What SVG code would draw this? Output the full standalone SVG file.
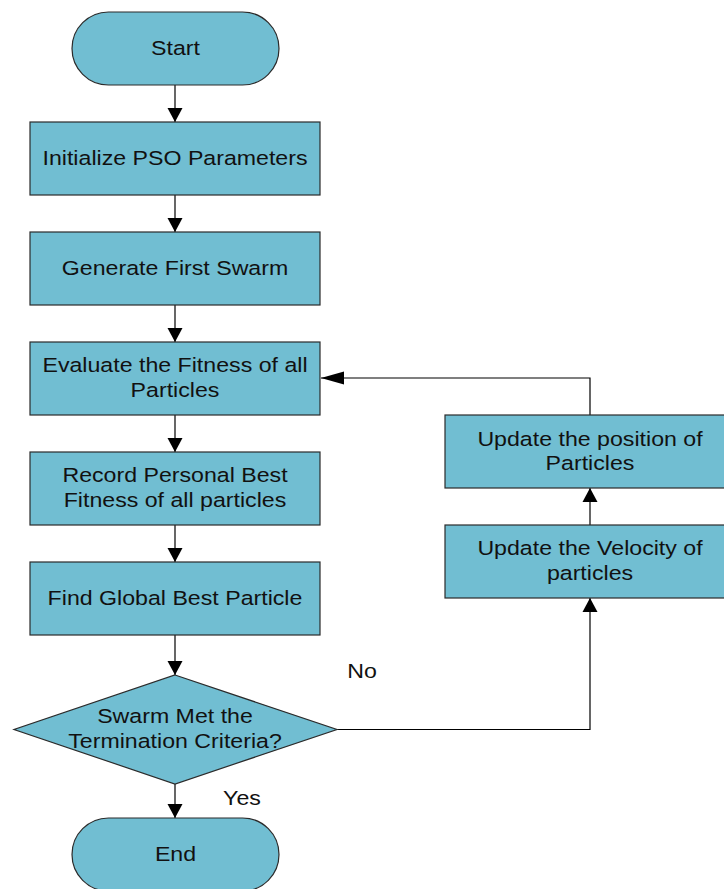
<svg xmlns="http://www.w3.org/2000/svg" width="724" height="889" viewBox="0 0 724 889">
<style>
.n{fill:#71BED2;stroke:#2b2b2b;stroke-width:1.2}
.t{font-family:"Liberation Sans",Arial,sans-serif;font-size:20.5px;fill:#111;text-anchor:middle}
.c{fill:none;stroke:#000;stroke-width:1.2}
</style>
<defs>
<marker id="ah" markerUnits="userSpaceOnUse" markerWidth="16" markerHeight="16" viewBox="0 0 16 16" refX="14" refY="8" orient="auto">
<path d="M0,0.5 L14,8 L0,15.5 Z" fill="#000"/>
</marker>
<marker id="ahw" markerUnits="userSpaceOnUse" markerWidth="24" markerHeight="14" viewBox="0 0 24 14" refX="23" refY="7" orient="auto">
<path d="M0,0.5 L23,7 L0,13.5 Z" fill="#000"/>
</marker>
</defs>
<rect width="724" height="889" fill="#fff"/>
<g id="connectors">
<line class="c" x1="175" y1="85" x2="175" y2="122" marker-end="url(#ah)"/>
<line class="c" x1="175" y1="195" x2="175" y2="232" marker-end="url(#ah)"/>
<line class="c" x1="175" y1="305" x2="175" y2="342" marker-end="url(#ah)"/>
<line class="c" x1="175" y1="415" x2="175" y2="452" marker-end="url(#ah)"/>
<line class="c" x1="175" y1="525" x2="175" y2="562" marker-end="url(#ah)"/>
<line class="c" x1="175" y1="635" x2="175" y2="675" marker-end="url(#ah)"/>
<line class="c" x1="175" y1="784" x2="175" y2="818" marker-end="url(#ah)"/>
<polyline class="c" points="337,729.5 590,729.5 590,598" marker-end="url(#ah)"/>
<line class="c" x1="590" y1="525" x2="590" y2="488" marker-end="url(#ah)"/>
<polyline class="c" points="590,415 590,378 321,378" marker-end="url(#ahw)"/>
<text class="t" transform="translate(362,678) scale(1.13,1)">No</text>
<text class="t" transform="translate(242,805) scale(1.13,1)">Yes</text>
</g>
<g id="start">
<rect class="n" x="72" y="12" width="207" height="73" rx="36.5" ry="36.5"/>
<text class="t" transform="translate(175.5,55) scale(1.13,1)">Start</text>
</g>
<g id="init">
<rect class="n" x="30" y="122" width="290" height="73"/>
<text class="t" transform="translate(175,165) scale(1.13,1)">Initialize PSO Parameters</text>
</g>
<g id="generate">
<rect class="n" x="30" y="232" width="290" height="73"/>
<text class="t" transform="translate(175,275) scale(1.13,1)">Generate First Swarm</text>
</g>
<g id="evaluate">
<rect class="n" x="30" y="342" width="290" height="73"/>
<text class="t" transform="translate(175,372) scale(1.13,1)">Evaluate the Fitness of all</text>
<text class="t" transform="translate(175,397) scale(1.13,1)">Particles</text>
</g>
<g id="record">
<rect class="n" x="30" y="452" width="290" height="73"/>
<text class="t" transform="translate(175,482) scale(1.13,1)">Record Personal Best</text>
<text class="t" transform="translate(175,507) scale(1.13,1)">Fitness of all particles</text>
</g>
<g id="global">
<rect class="n" x="30" y="562" width="290" height="73"/>
<text class="t" transform="translate(175,605) scale(1.13,1)">Find Global Best Particle</text>
</g>
<g id="decision">
<polygon class="n" points="175,675 337,729.5 175,784 14,729.5"/>
<text class="t" transform="translate(175,723) scale(1.13,1)">Swarm Met the</text>
<text class="t" transform="translate(175,748) scale(1.13,1)">Termination Criteria?</text>
</g>
<g id="end">
<rect class="n" x="72" y="818" width="207" height="73" rx="36.5" ry="36.5"/>
<text class="t" transform="translate(175.5,861) scale(1.13,1)">End</text>
</g>
<g id="velocity">
<rect class="n" x="445" y="525" width="290" height="73"/>
<text class="t" transform="translate(590,555) scale(1.13,1)">Update the Velocity of</text>
<text class="t" transform="translate(590,580) scale(1.13,1)">particles</text>
</g>
<g id="position">
<rect class="n" x="445" y="415" width="290" height="73"/>
<text class="t" transform="translate(590,446) scale(1.13,1)">Update the position of</text>
<text class="t" transform="translate(590,470) scale(1.13,1)">Particles</text>
</g>
</svg>
